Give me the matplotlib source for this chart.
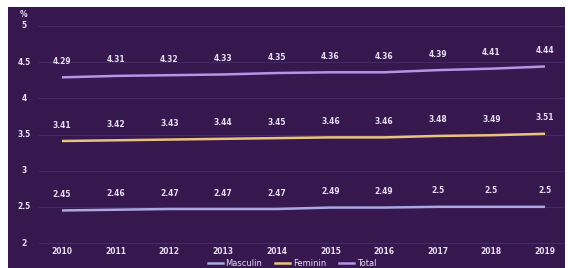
import matplotlib
matplotlib.use("Agg")
import matplotlib.pyplot as plt
from matplotlib.lines import Line2D

years = [2010, 2011, 2012, 2013, 2014, 2015, 2016, 2017, 2018, 2019]
masculin = [2.45, 2.46, 2.47, 2.47, 2.47, 2.49, 2.49, 2.5, 2.5, 2.5]
feminin = [3.41, 3.42, 3.43, 3.44, 3.45, 3.46, 3.46, 3.48, 3.49, 3.51]
total = [4.29, 4.31, 4.32, 4.33, 4.35, 4.36, 4.36, 4.39, 4.41, 4.44]
yticks = [2, 2.5, 3, 3.5, 4, 4.5, 5]
series_names = ["Masculin", "Feminin", "Total"]

bg = "#36184f"
grid = "#452a63"
txt = "#e6def0"
colors = {"Masculin": "#aaa8de", "Feminin": "#e9c27d", "Total": "#b594e6"}

W, H = 568, 268
fig = plt.figure(figsize=(W / 100, H / 100), dpi=100, facecolor="white")
ax = fig.add_axes([8 / W, 0, (565 - 8) / W, (268 - 7) / H])
ax.set_facecolor(bg)
for s in ax.spines.values():
    s.set_visible(False)
ax.set_xticks([])
ax.set_yticks([])

ppu = (243 - 26) / 3.0
ymax = 5 + (26 - 7) / ppu
ymin = 2 - (268 - 243) / ppu
ax.set_ylim(ymin, ymax)
ppx = (545 - 62) / 9.0
xmin = 2010 - (62 - 8) / ppx
xmax = 2019 + (565 - 545) / ppx
ax.set_xlim(xmin, xmax)

gx0 = 2010 - (62 - 38) / ppx
for t in yticks:
    ax.hlines(t, gx0, xmax, color=grid, lw=0.8, zorder=1)
    ax.text(2010 - (62 - 24) / ppx, t, f"{t:g}", color=txt, fontsize=5.5,
            fontweight="bold", ha="center", va="center")
ax.text(2010 - (62 - 24) / ppx, 5 + 11 / ppu, "%", color=txt, fontsize=5.5,
        fontweight="bold", ha="center", va="center")

for y in years:
    ax.text(y, 2 - 9 / ppu, str(y), color=txt, fontsize=5.5, fontweight="bold",
            ha="center", va="center")

data = {"Masculin": masculin, "Feminin": feminin, "Total": total}
for name in series_names:
    vals = data[name]
    ax.plot(years, vals, color=colors[name], lw=1.8, zorder=3, solid_capstyle="butt")
    for x, v in zip(years, vals):
        ax.text(x, v + 16 / ppu, f"{v:g}", color=txt, fontsize=5.5,
                fontweight="bold", ha="center", va="center")

handles = [Line2D([], [], color=colors[n], lw=1.8) for n in series_names]
leg = ax.legend(handles, series_names, loc="center", ncol=3, frameon=False,
                fontsize=6, handlelength=1.8, handletextpad=0.3, columnspacing=1.6,
                borderpad=0.1)
for t in leg.get_texts():
    t.set_color(txt)
leg.set_bbox_to_anchor((0.51, 1 - (263 - 7) / (268 - 7)), transform=ax.transAxes)

fig.savefig("out.png", dpi=100, facecolor="white")
